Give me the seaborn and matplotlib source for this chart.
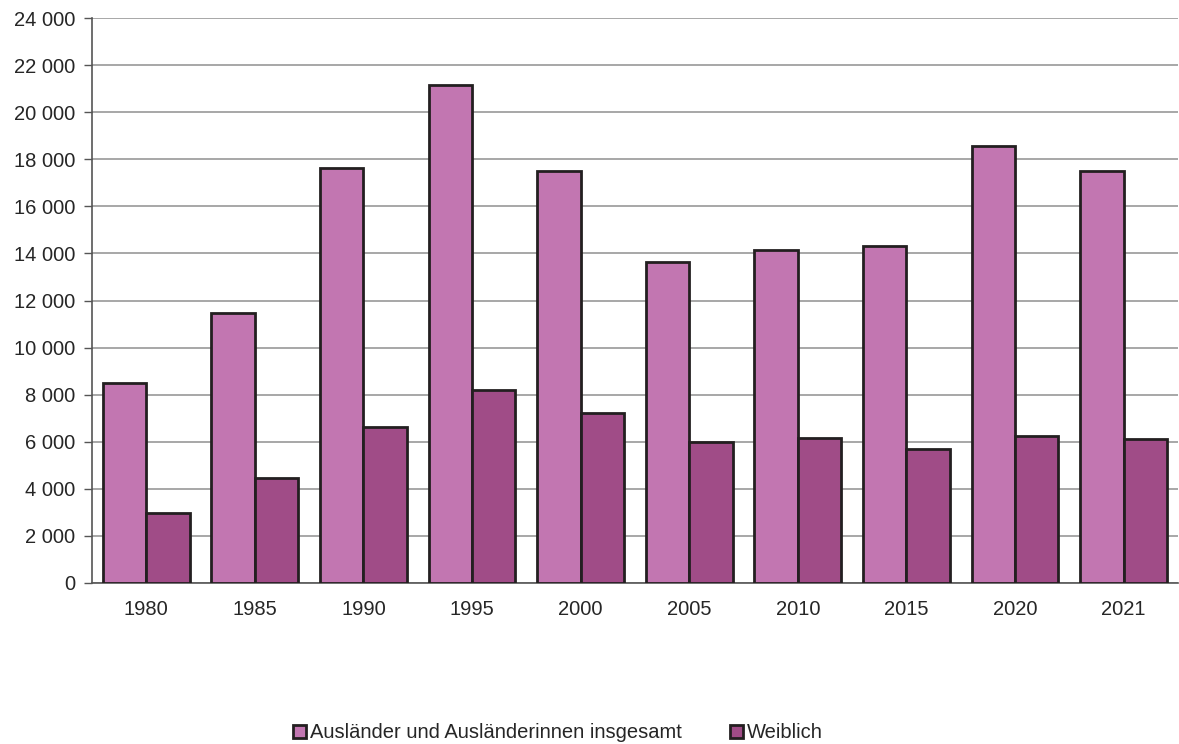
import pandas as pd
import matplotlib as mpl
import matplotlib.pyplot as plt
import seaborn as sns
import numpy as np

years = ["1980", "1985", "1990", "1995", "2000", "2005", "2010", "2015", "2020", "2021"]
insgesamt = [8500, 11470, 17630, 21160, 17500, 13640, 14150, 14320, 18580, 17520]
weiblich = [2970, 4460, 6630, 8200, 7220, 5990, 6160, 5690, 6240, 6120]
series = ["Ausländer und Ausländerinnen insgesamt", "Weiblich"]
colors = ["#C276B1", "#A04C87"]

sns.set_style("white")
plt.rcParams["font.family"] = ["Liberation Sans", "DejaVu Sans"]

data = pd.DataFrame({
    "Jahr": years * 2,
    "Wert": insgesamt + weiblich,
    "Reihe": [series[0]] * len(years) + [series[1]] * len(years),
})

fs = 14.5
fig = plt.figure(figsize=(11.79, 7.44), dpi=100)
ax = fig.add_axes([0.078, 0.2164, 0.921, 0.7594])

sns.barplot(data=data, x="Jahr", y="Wert", hue="Reihe", palette=colors,
            width=0.8, gap=0, edgecolor="#231F20", linewidth=2, saturation=1,
            ax=ax, zorder=3)

ax.set_ylim(0, 24000)
ax.set_xlim(-0.5, len(years) - 0.5)
ax.set_yticks(np.arange(0, 24001, 2000))
ax.set_yticklabels([f"{v:,}".replace(",", " ") for v in range(0, 24001, 2000)], fontsize=fs)
ax.yaxis.grid(True, color="#A0A0A0", linewidth=1.3, zorder=0)
ax.set_axisbelow(True)

# category labels without ticks, tick marks between categories
ax.set_xticks(range(len(years)))
ax.set_xticklabels(years, fontsize=fs)
ax.tick_params(axis="x", length=0, pad=12)
ax.set_xticks(np.arange(-0.5, len(years), 1), minor=True)
ax.tick_params(axis="x", which="minor", length=6, color="#555555", width=1)
ax.tick_params(axis="y", length=6, color="#555555", width=1, left=True, pad=6)

for s in ["top", "right"]:
    ax.spines[s].set_visible(False)
for s in ["left", "bottom"]:
    ax.spines[s].set_color("#555555")
    ax.spines[s].set_linewidth(1.2)

ax.set_xlabel("")
ax.set_ylabel("")

handles, labels = ax.get_legend_handles_labels()
ax.legend(handles, labels, loc="center", bbox_to_anchor=(0.473, 0.0148), bbox_transform=fig.transFigure,
          ncol=2, frameon=False, fontsize=fs, handlelength=0.65, handleheight=0.65,
          handletextpad=0.2, columnspacing=2.4)

fig.savefig("out.png", dpi=100)
